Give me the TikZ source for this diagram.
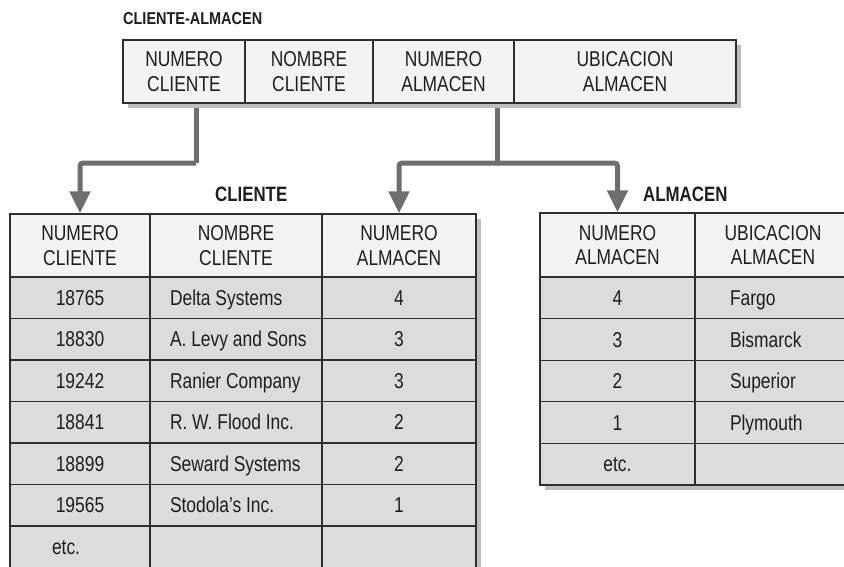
\documentclass[tikz,border=0pt]{standalone}
\usepackage{fontspec}
\usepackage{graphicx}
\setmainfont{Liberation Sans}[FakeStretch=0.81]
\usetikzlibrary{arrows.meta,backgrounds}
\definecolor{bordercol}{HTML}{2E2E2E}
\definecolor{headfill}{HTML}{F3F3F3}
\definecolor{datafill}{HTML}{DCDCDC}
\definecolor{shadowcol}{HTML}{BEBEBE}
\definecolor{conncol}{HTML}{6E6E6E}
\definecolor{textcol}{HTML}{1E1E1E}
\newcommand\hdfont{\fontsize{21.5}{24.6}\selectfont}
\newcommand\dtfont{\fontsize{21.5}{24}\selectfont}
\begin{document}
\begin{tikzpicture}[x=1pt,y=-1pt,
  cell/.style={draw=bordercol,line width=1.2pt,inner sep=0pt,text=textcol},
  hcell/.style={cell,fill=headfill,align=center,font=\hdfont},
  dcell/.style={cell,fill=datafill,font=\dtfont,text height=15.4pt,text depth=0pt},
  ttlbase/.style={inner sep=0pt,text=textcol,anchor=base west},
  conn/.style={draw=conncol,line width=5pt,rounded corners=3pt},
  connarrow/.style={conn,-{Triangle[width=20pt,length=22pt]}},
  shadowbox/.style={fill=shadowcol}]
\useasboundingbox (0,0) rectangle (844,566);
\clip (0,0) rectangle (844,566);

% shadows
\fill[shadowbox] (128,45) rectangle (741,108);
\fill[shadowbox] (15,219) rectangle (481,600);
\fill[shadowbox] (545,218) rectangle (860,490);

% titles
\node[ttlbase] (ttop) at (123,24) {\resizebox{139pt}{12pt}{\bfseries CLIENTE-ALMACEN}};
\node[ttlbase] (tcli) at (215,201.7) {\fontsize{20.8}{22}\selectfont\bfseries CLIENTE};
\node[ttlbase] (talm) at (643,201.7) {\fontsize{20.8}{22}\selectfont\bfseries ALMACEN};

% top table
\node[hcell,minimum width=122pt,minimum height=63pt] (tA1) at (184,71.5) {NUMERO\\CLIENTE};
\node[hcell,minimum width=128pt,minimum height=63pt] (tA2) at (309,71.5) {NOMBRE\\CLIENTE};
\node[hcell,minimum width=141pt,minimum height=63pt] (tA3) at (443.5,71.5) {NUMERO\\ALMACEN};
\node[hcell,minimum width=222pt,minimum height=63pt] (tA4) at (625,71.5) {UBICACION\\ALMACEN};

% CLIENTE table
\node[hcell,minimum width=140pt,minimum height=63pt] (cH1) at (80,245.5) {NUMERO\\CLIENTE};
\node[hcell,minimum width=172pt,minimum height=63pt] (cH2) at (236,245.5) {NOMBRE\\CLIENTE};
\node[hcell,minimum width=154pt,minimum height=63pt] (cH3) at (399,245.5) {NUMERO\\ALMACEN};
\foreach \i/\num/\name/\alm in {0/18765/Delta Systems/4,1/18830/A. Levy and Sons/3,2/19242/Ranier Company/3,3/18841/R. W. Flood Inc./2,4/18899/Seward Systems/2,5/19565/Stodola’s Inc./1}{
  \pgfmathsetmacro\yy{297.75+41.5*\i}
  \node[dcell,minimum width=140pt,minimum height=41.5pt] (cN\i) at (80,\yy) {\num};
  \node[dcell,minimum height=41.5pt,inner xsep=20pt] (cM\i) at (236,\yy) {\makebox[132pt][l]{\name}};
  \node[dcell,minimum width=154pt,minimum height=41.5pt] (cA\i) at (399,\yy) {\alm};
}
\node[dcell,minimum height=41.5pt,inner xsep=42pt] (cN6) at (80,546.75) {\makebox[56pt][l]{etc.}};
\node[dcell,minimum width=172pt,minimum height=41.5pt] (cM6) at (236,546.75) {};
\node[dcell,minimum width=154pt,minimum height=41.5pt] (cA6) at (399,546.75) {};

% ALMACEN table
\node[hcell,minimum width=155pt,minimum height=64pt] (aH1) at (617.5,245) {NUMERO\\ALMACEN};
\node[hcell,minimum width=156pt,minimum height=64pt] (aH2) at (773,245) {UBICACION\\ALMACEN};
\foreach \i/\num/\ubi in {0/4/Fargo,1/3/Bismarck,2/2/Superior,3/1/Plymouth,4/etc./}{
  \pgfmathsetmacro\yy{297.8+41.6*\i}
  \node[dcell,minimum width=155pt,minimum height=41.6pt] (aN\i) at (617.5,\yy) {\num};
  \node[dcell,minimum height=41.6pt,inner xsep=35pt] (aU\i) at (773,\yy) {\makebox[86pt][l]{\ubi}};
}

% connectors
\begin{scope}[on background layer]
\coordinate (k) at (196,163);
\coordinate (j) at (497,163);
\draw[conn] (tA1.south -| k) -- (k);
\draw[connarrow] (k) -| (cH1.north);
\draw[conn] (tA3.south -| j) -- (j);
\draw[connarrow] (j) -| (cH3.north);
\draw[connarrow] (j) -| (aH1.north);
\end{scope}
\end{tikzpicture}
\end{document}
